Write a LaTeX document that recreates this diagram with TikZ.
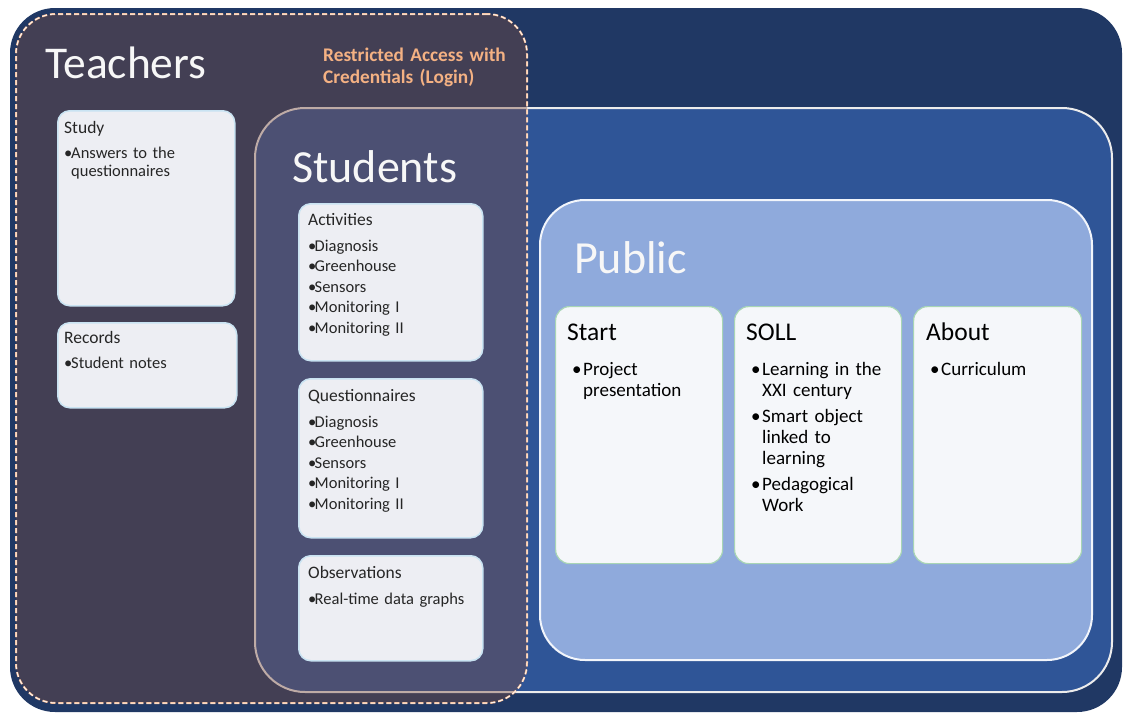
\documentclass[tikz,border=0pt]{standalone}
\usepackage{fontspec}
\setmainfont{Carlito}
\usepackage{tikz}
\usetikzlibrary{positioning}
\definecolor{outernavy}{HTML}{203864}
\definecolor{studentblue}{HTML}{2F5597}
\definecolor{publicblue}{HTML}{8FAADC}
\definecolor{teacherbrown}{RGB}{121,74,62}
\definecolor{loginpeach}{HTML}{F4B183}
\definecolor{cardgray}{HTML}{EDEEF3}
\definecolor{cardcyan}{HTML}{C9E3F2}
\definecolor{cardwhite}{HTML}{F5F7FA}
\definecolor{cardgreen}{HTML}{A8D5B5}
\newlength{\bulw}
\newcommand{\itm}[1]{\hangindent=\bulw\hangafter=1\makebox[\bulw][l]{\textbullet}#1\par}
\newcommand{\itmgap}{\vskip5pt}

\begin{document}
\begin{tikzpicture}[
    x=1pt, y=-1pt,
    region/.style={anchor=north west, inner sep=0pt, outer sep=0pt},
    card/.style={anchor=north west, inner sep=0pt, rounded corners=12pt, fill=cardgray, draw=cardcyan, line width=1.5pt},
    pubcard/.style={card, rounded corners=14pt, fill=cardwhite, draw=cardgreen, line width=1.2pt},
    bigtitle/.style={anchor=base west, inner sep=0pt, text=white!94!gray, font=\fontsize{46}{50}\selectfont},
    logintext/.style={anchor=base west, inner sep=0pt, text width=220pt, align=left, text=loginpeach, font=\bfseries\fontsize{19.3}{22}\selectfont},
    cardtitle/.style={anchor=base west, inner sep=0pt, text=black!85, font=\fontsize{17.5}{20}\selectfont},
    cardlist/.style={anchor=base west, inner sep=0pt, text width=170pt, align=left, text=black!85, font=\fontsize{16.5}{20.5}\selectfont, execute at begin node={\setlength{\bulw}{6.5pt}}},
    teachlist/.style={cardlist, font=\fontsize{16.5}{18}\selectfont, execute at begin node={\setlength{\bulw}{7pt}}},
    pubtitle/.style={cardtitle, text=black, font=\fontsize{25.5}{28}\selectfont},
    publist/.style={cardlist, text width=150pt, text=black, font=\fontsize{19}{21}\selectfont, execute at begin node={\setlength{\bulw}{11pt}}}
]
    \useasboundingbox (0,0) rectangle (1124,715);

    % Nested areas
    \node[region, fill=outernavy, rounded corners=45pt, minimum width=1112pt, minimum height=704pt] (outer) at (10,8) {};
    \node[region, fill=studentblue, draw=white!85!gray, line width=2pt, rounded corners=50pt, minimum width=857pt, minimum height=584pt] (students) at (255,108) {};
    \node[region, fill=publicblue, draw=white!88!publicblue, line width=2pt, rounded corners=45pt, minimum width=552pt, minimum height=460pt] (public) at (540,200) {};
    \node[region, fill=teacherbrown, fill opacity=0.4, draw=loginpeach, line width=0.5pt, double=white!85!loginpeach, double distance=1pt, dash pattern=on 5pt off 3pt, rounded corners=40pt, minimum width=511pt, minimum height=689pt] (teachers) at (16,14) {};

    % Area titles
    \node[bigtitle, font=\fontsize{45.5}{50}\selectfont] (teachtitle) at (45,78) {Teachers};
    \node[logintext] (login) at (323,61) {Restricted Access with\\Credentials (Login)};
    \node[bigtitle] (studtitle) at (292,182) {Students};
    \node[bigtitle] (pubtitle) at (574,273) {Public};

    % Teachers
    \node[card, minimum width=177pt, minimum height=195pt] (study) at (57,110) {};
    \node[cardtitle] (studyhead) at (64,133) {Study};
    \node[teachlist] (studylist) at (64,158) {\itm{Answers to the\newline questionnaires}};
    \node[card, minimum width=179pt, minimum height=85pt] (records) at (57,322) {};
    \node[cardtitle] (recordshead) at (64,343) {Records};
    \node[teachlist] (recordslist) at (64,368) {\itm{Student notes}};

    % Students
    \node[card, minimum width=184pt, minimum height=157pt] (activities) at (298,203) {};
    \node[cardtitle] (activitieshead) at (308,225) {Activities};
    \node[cardlist] (activitieslist) at (308,251) {\itm{Diagnosis}\itm{Greenhouse}\itm{Sensors}\itm{Monitoring I}\itm{Monitoring II}};
    \node[card, minimum width=184pt, minimum height=159pt] (quest) at (298,378) {};
    \node[cardtitle] (questhead) at (308,401) {Questionnaires};
    \node[cardlist] (questlist) at (308,427) {\itm{Diagnosis}\itm{Greenhouse}\itm{Sensors}\itm{Monitoring I}\itm{Monitoring II}};
    \node[card, minimum width=184pt, minimum height=105pt] (observ) at (298,555) {};
    \node[cardtitle] (observhead) at (308,578) {Observations};
    \node[cardlist] (observlist) at (308,604) {\itm{Real-time data graphs}};

    % Public
    \node[pubcard, minimum width=167pt, minimum height=257pt] (start) at (555,306) {};
    \node[pubtitle] (starthead) at (567,340) {Start};
    \node[publist] (startlist) at (572,375) {\itm{Project\newline presentation}};
    \node[pubcard, minimum width=167pt, minimum height=257pt] (soll) at (734,306) {};
    \node[pubtitle] (sollhead) at (746,340) {SOLL};
    \node[publist] (solllist) at (751,375) {\itm{Learning in the\newline XXI century}\itmgap\itm{Smart object\newline linked to\newline learning}\itmgap\itm{Pedagogical\newline Work}};
    \node[pubcard, minimum width=168pt, minimum height=257pt] (about) at (913,306) {};
    \node[pubtitle] (abouthead) at (926,340) {About};
    \node[publist] (aboutlist) at (930,375) {\itm{Curriculum}};
\end{tikzpicture}
\end{document}
